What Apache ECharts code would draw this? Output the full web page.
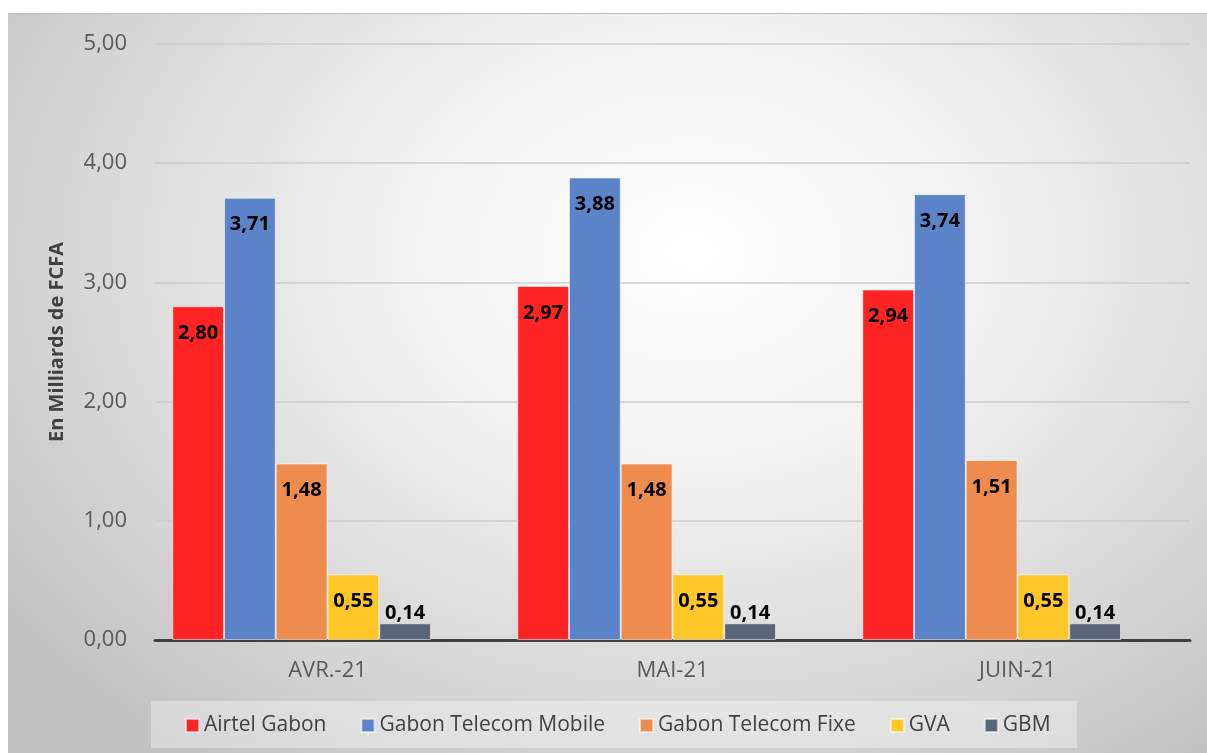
<!DOCTYPE html>
<html lang="fr">
<head>
<meta charset="UTF-8">
<title>Revenus mensuels</title>
<style>
    html, body { margin: 0; padding: 0; background: #fff; }
    #chart {
        position: absolute; left: 8px; top: 13px;
        width: 1199px; height: 740px;
        border-top: 1px solid #bdbdbd;
        box-sizing: border-box;
        background: radial-gradient(ellipse 70% 85% at 57% 32%, #ffffff 0%, #f2f2f2 35%, #d6d6d6 75%, #c2c2c2 100%);
    }
</style>
</head>
<body>
<div id="chart"></div>
<script src="https://cdn.jsdelivr.net/npm/echarts@6/dist/echarts.min.js"></script>
<script>
    // mois
    var categories = ['AVR.-21', 'MAI-21', 'JUIN-21'];
    // opérateurs
    var operators = ['Airtel Gabon', 'Gabon Telecom Mobile', 'Gabon Telecom Fixe', 'GVA', 'GBM'];
    var airtel = [2.80, 2.97, 2.94];
    var gtMobile = [3.71, 3.88, 3.74];
    var gtFixe = [1.48, 1.48, 1.51];
    var gva = [0.55, 0.55, 0.55];
    var gbm = [0.14, 0.14, 0.14];
    var colors = ['#FF2424', '#5B84C8', '#EE8C4E', '#FEC627', '#596579'];

    var chart = echarts.init(document.getElementById('chart'));

    function fmt(v) { return v.toFixed(2).replace('.', ','); }

    function makeSeries(name, values, color, pos) {
        return {
            name: name,
            type: 'bar',
            data: values,
            barGap: '0%',
            barCategoryGap: '10%',
            itemStyle: {
                color: color,
                borderColor: 'rgba(255,255,255,0.55)',
                borderWidth: 1
            },
            label: {
                show: true,
                position: pos,
                distance: pos == 'top' ? 0 : 17,
                formatter: function (p) { return fmt(p.value); },
                color: '#000',
                fontFamily: 'Open Sans',
                fontWeight: 'bold',
                fontSize: 20
            }
        };
    }

    var series = [
        makeSeries(operators[0], airtel, colors[0], 'insideTop'),
        makeSeries(operators[1], gtMobile, colors[1], 'insideTop'),
        makeSeries(operators[2], gtFixe, colors[2], 'insideTop'),
        makeSeries(operators[3], gva, colors[3], 'insideTop'),
        makeSeries(operators[4], gbm, colors[4], 'top')
    ];
    // série vide (réserve la place comme dans le graphique d'origine)
    series.push({ name: '', type: 'bar', data: ['-', '-', '-'], barGap: '0%', barCategoryGap: '10%', silent: true });

    var option = {
        backgroundColor: 'transparent',
        textStyle: { fontFamily: 'Open Sans' },
        grid: { left: 147, right: 17, top: 30, bottom: 113 },
        graphic: [{
            type: 'rect',
            shape: { x: 143, y: 687, width: 926, height: 47 },
            style: { fill: 'rgba(255,255,255,0.35)' },
            z: -1
        }],
        legend: {
            data: operators,
            left: 172,
            top: 696,
            itemWidth: 13,
            itemHeight: 13,
            itemGap: 34,
            icon: 'rect',
            textStyle: { color: '#404040', fontSize: 21, fontFamily: 'Open Sans' }
        },
        xAxis: {
            type: 'category',
            data: categories,
            axisLine: { lineStyle: { color: '#404040', width: 3 } },
            axisTick: { show: false },
            axisLabel: { color: '#595959', fontSize: 22, margin: 20 }
        },
        yAxis: {
            type: 'value',
            min: 0,
            max: 5,
            interval: 1,
            name: 'En Milliards de FCFA',
            nameLocation: 'middle',
            nameGap: 88,
            nameTextStyle: { color: '#404040', fontSize: 20, fontWeight: 'bold' },
            axisLabel: {
                color: '#595959', fontSize: 22, margin: 28,
                formatter: function (v) { return fmt(v); }
            },
            splitLine: { lineStyle: { color: '#cdcdcd', width: 1.5 } }
        },
        series: series
    };
    chart.setOption(option);
</script>
</body>
</html>
